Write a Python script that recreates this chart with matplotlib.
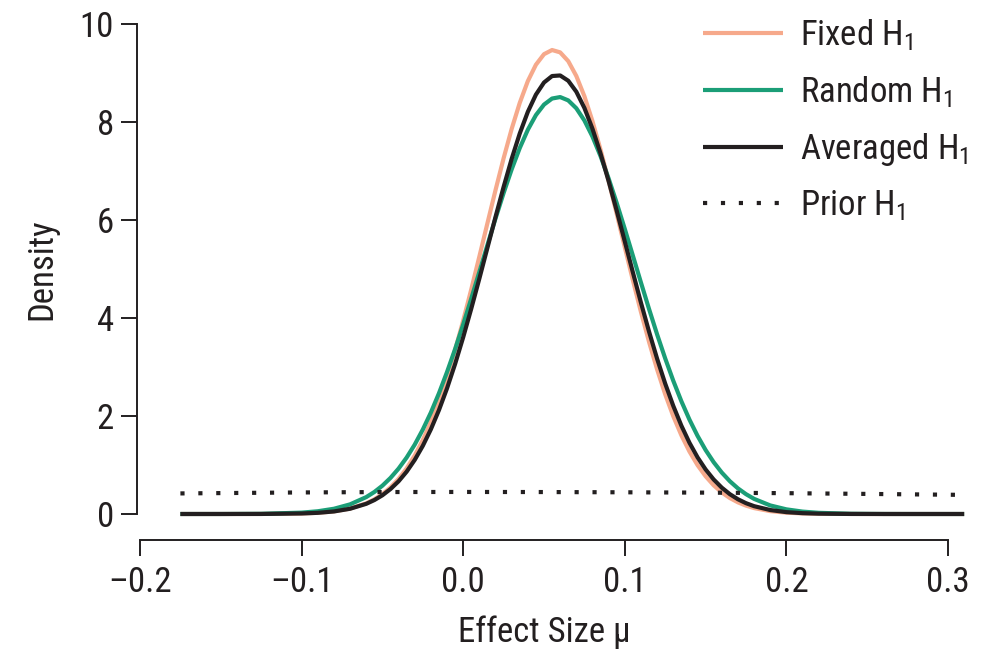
import matplotlib
matplotlib.use("Agg")
import matplotlib.pyplot as plt

plt.rcParams['font.family'] = ['Roboto Condensed', 'Liberation Sans', 'DejaVu Sans']
plt.rcParams['mathtext.fontset'] = 'custom'
plt.rcParams['mathtext.rm'] = 'Roboto Condensed'
plt.rcParams['mathtext.default'] = 'regular'

# effect size grid
mu = [-0.175, -0.15, -0.125, -0.1, -0.09, -0.08, -0.07, -0.06, -0.055, -0.05,
      -0.045, -0.04, -0.035, -0.03, -0.025, -0.02, -0.015, -0.01, -0.005, 0.0,
      0.005, 0.01, 0.015, 0.02, 0.025, 0.03, 0.035, 0.04, 0.045, 0.05,
      0.055, 0.06, 0.065, 0.07, 0.075, 0.08, 0.085, 0.09, 0.095, 0.1,
      0.105, 0.11, 0.115, 0.12, 0.125, 0.13, 0.135, 0.14, 0.145, 0.15,
      0.155, 0.16, 0.165, 0.17, 0.175, 0.18, 0.19, 0.2, 0.21, 0.22,
      0.24, 0.26, 0.28, 0.31]

fixed = [0.0, 0.0001, 0.001, 0.010, 0.024, 0.053, 0.110, 0.217, 0.299, 0.405,
         0.542, 0.715, 0.930, 1.193, 1.508, 1.880, 2.312, 2.801, 3.349, 3.948,
         4.586, 5.255, 5.935, 6.610, 7.259, 7.860, 8.391, 8.835, 9.169, 9.384,
         9.469, 9.421, 9.242, 8.939, 8.526, 8.016, 7.433, 6.796, 6.125, 5.443,
         4.771, 4.122, 3.512, 2.950, 2.443, 1.995, 1.607, 1.276, 0.998, 0.771,
         0.586, 0.440, 0.326, 0.238, 0.171, 0.121, 0.058, 0.027, 0.012, 0.005,
         0.001, 0.0, 0.0, 0.0]

random_ = [0.0, 0.0004, 0.004, 0.028, 0.056, 0.107, 0.197, 0.345, 0.449, 0.578,
           0.736, 0.926, 1.152, 1.416, 1.723, 2.071, 2.464, 2.898, 3.367, 3.870,
           4.399, 4.942, 5.491, 6.031, 6.550, 7.034, 7.469, 7.842, 8.141, 8.355,
           8.479, 8.509, 8.441, 8.280, 8.031, 7.702, 7.302, 6.846, 6.347, 5.817,
           5.272, 4.723, 4.184, 3.665, 3.175, 2.719, 2.302, 1.927, 1.596, 1.306,
           1.057, 0.846, 0.669, 0.523, 0.405, 0.309, 0.175, 0.095, 0.049, 0.024,
           0.005, 0.001, 0.0001, 0.0]

averaged = [0.0, 0.0001, 0.001, 0.011, 0.024, 0.052, 0.107, 0.208, 0.284, 0.382,
            0.509, 0.667, 0.864, 1.104, 1.391, 1.729, 2.121, 2.566, 3.063, 3.608,
            4.192, 4.805, 5.434, 6.063, 6.674, 7.249, 7.766, 8.208, 8.559, 8.806,
            8.938, 8.950, 8.842, 8.618, 8.287, 7.861, 7.357, 6.792, 6.188, 5.561,
            4.931, 4.312, 3.722, 3.168, 2.661, 2.206, 1.803, 1.454, 1.157, 0.909,
            0.704, 0.538, 0.405, 0.301, 0.221, 0.160, 0.081, 0.038, 0.017, 0.007,
            0.001, 0.0, 0.0, 0.0]

mu_prior = [-0.175, -0.1, -0.05, 0.0, 0.05, 0.1, 0.15, 0.2, 0.25, 0.31]
prior = [0.42, 0.44, 0.448, 0.45, 0.448, 0.443, 0.436, 0.425, 0.41, 0.39]

x_ticks = [-0.2, -0.1, 0.0, 0.1, 0.2, 0.3]
x_ticklabels = ['\u20130.2', '\u20130.1', '0.0', '0.1', '0.2', '0.3']
y_ticks = [0, 2, 4, 6, 8, 10]

labels = ['Fixed H$_1$', 'Random H$_1$', 'Averaged H$_1$', 'Prior H$_1$']
colors = ['#F6A98B', '#1B9E77', '#231F20', '#231F20']

fig = plt.figure(figsize=(9.97, 6.52), dpi=100)
ax = fig.add_axes([140 / 997, 122 / 652, 830 / 997, 510 / 652])

lw = 3.0
ax.plot(mu, fixed, color=colors[0], lw=lw, solid_capstyle='butt')
ax.plot(mu, random_, color=colors[1], lw=lw, solid_capstyle='butt')
ax.plot(mu, averaged, color=colors[2], lw=lw, solid_capstyle='butt')
ax.plot(mu_prior, prior, color=colors[3], lw=lw, linestyle=(0, (1, 3.3)),
        dash_capstyle='butt')

ax.set_xlim(-0.2, -0.2 + 830 / 1616)
ax.set_ylim(-16 / 49, 10 + 4 / 49)

for s in ['top', 'right']:
    ax.spines[s].set_visible(False)
ax.spines['left'].set_position(('outward', 2.2))
ax.spines['bottom'].set_position(('outward', 7.2))
ax.spines['left'].set_bounds(0, 10)
ax.spines['bottom'].set_bounds(-0.2, 0.3)
for s in ['left', 'bottom']:
    ax.spines[s].set_linewidth(1.4)
    ax.spines[s].set_color('#231F20')

ax.set_xticks(x_ticks)
ax.set_xticklabels(x_ticklabels)
ax.set_yticks(y_ticks)
ax.tick_params(axis='both', labelsize=25, length=11.5, width=1.4,
               color='#231F20', labelcolor='#231F20')
ax.tick_params(axis='x', pad=7)
ax.tick_params(axis='y', pad=5)

fig.text(544 / 997, 1 - 632 / 652, 'Effect Size \u03bc', fontsize=25,
         ha='center', va='center', color='#231F20')
fig.text(42 / 997, 1 - 269 / 652, 'Density', fontsize=25, rotation=90,
         ha='center', va='center', color='#231F20')

# legend drawn by hand, rows in pixel positions
row_y = [33, 90, 147, 203]
styles = ['-', '-', '-', (0, (1, 3.3))]
for lab, col, st, ypx in zip(labels, colors, styles, row_y):
    yf = (530 - ypx) / 510
    ax.plot([(703 - 140) / 830, (783 - 140) / 830], [yf, yf], color=col,
            lw=lw, linestyle=st, transform=ax.transAxes, clip_on=False,
            solid_capstyle='butt', dash_capstyle='butt')
    ax.text((800 - 140) / 830, (530 - ypx - 12.5) / 510, lab, fontsize=25,
            ha='left', va='baseline', transform=ax.transAxes, color='#231F20')

fig.savefig('out.png', dpi=100)
